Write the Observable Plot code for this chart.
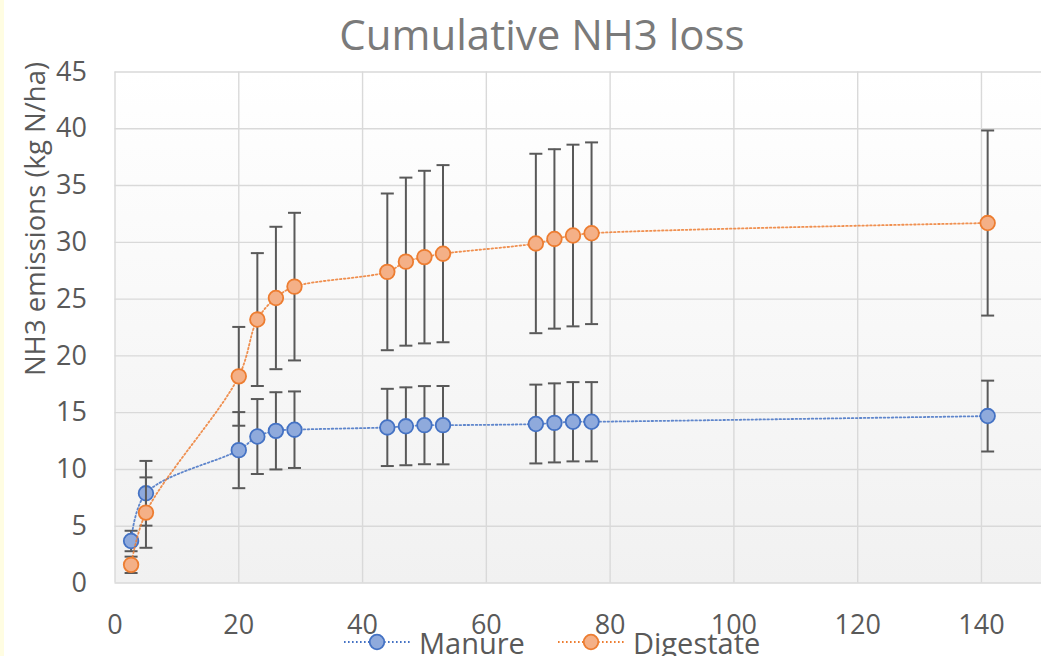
<!DOCTYPE html>
<html>
<head>
<meta charset="utf-8">
<script src="https://cdn.jsdelivr.net/npm/d3@7"></script>
<script src="https://cdn.jsdelivr.net/npm/@observablehq/plot@0.6"></script>
<style>
  html, body { margin: 0; padding: 0; background: #ffffff; }
  #wrap { position: relative; width: 1041px; height: 656px; overflow: hidden; font-family: "Open Sans", sans-serif; }
  #strip { position: absolute; left: 0; top: 0; width: 4px; height: 656px; background: #fffde2; }
  #chart { position: absolute; left: 0; top: 0; }
  #title { position: absolute; left: 542px; top: 33px; transform: translate(-50%, -50%); white-space: nowrap; font-size: 42px; color: #7a7a7a; }
  #ylabel { position: absolute; left: 34px; top: 219px; transform: translate(-50%, -50%) rotate(-90deg); white-space: nowrap; font-size: 27.5px; color: #595959; }
  .leg { position: absolute; top: 622px; height: 40px; display: flex; align-items: center; font-size: 29px; color: #595959; white-space: nowrap; }
  .leg svg { margin-right: 8px; }
</style>
</head>
<body>
<div id="wrap">
  <div id="strip"></div>
  <div id="chart"></div>
  <div id="title">Cumulative NH3 loss</div>
  <div id="ylabel">NH3 emissions (kg N/ha)</div>
  <div id="legend"></div>
</div>
<script>
// ---- data ----
const days = [2.6, 5, 20, 23, 26, 29, 44, 47, 50, 53, 68, 71, 74, 77, 141];
const manure = [3.7, 7.9, 11.7, 12.9, 13.4, 13.5, 13.7, 13.8, 13.9, 13.9, 14.0, 14.1, 14.2, 14.2, 14.7];
const manureErr = [0.9, 2.85, 3.35, 3.3, 3.4, 3.37, 3.4, 3.43, 3.44, 3.45, 3.47, 3.48, 3.49, 3.49, 3.12];
const digestate = [1.6, 6.2, 18.2, 23.2, 25.1, 26.1, 27.4, 28.3, 28.7, 29.0, 29.9, 30.3, 30.6, 30.8, 31.7];
const digestateErr = [0.72, 3.1, 4.35, 5.85, 6.27, 6.5, 6.9, 7.4, 7.6, 7.8, 7.9, 7.9, 8.0, 8.0, 8.15];
const seriesNames = ["Manure", "Digestate"];
const xTicks = [0, 20, 40, 60, 80, 100, 120, 140];
const yTicks = [0, 5, 10, 15, 20, 25, 30, 35, 40, 45];

const colors = {
  Manure: {line: "#4472c4", fill: "#8faadc", stroke: "#4472c4"},
  Digestate: {line: "#ed7d31", fill: "#f4b087", stroke: "#ed7d31"}
};

const manureRows = days.map((d, i) => ({day: d, v: manure[i], lo: manure[i] - manureErr[i], hi: manure[i] + manureErr[i]}));
const digestateRows = days.map((d, i) => ({day: d, v: digestate[i], lo: digestate[i] - digestateErr[i], hi: digestate[i] + digestateErr[i]}));

const cap = { draw(ctx) { ctx.moveTo(-6.5, 0); ctx.lineTo(6.5, 0); } };

function seriesMarks(rows, c) {
  return [
    Plot.ruleX(rows, {x: "day", y1: "lo", y2: "hi", stroke: "#595959", strokeWidth: 2}),
    Plot.dot(rows, {x: "day", y: "lo", symbol: cap, r: 5, stroke: "#595959", strokeWidth: 2, fill: "none"}),
    Plot.dot(rows, {x: "day", y: "hi", symbol: cap, r: 5, stroke: "#595959", strokeWidth: 2, fill: "none"})
  ];
}
function seriesTop(rows, c) {
  return [
    Plot.line(rows, {x: "day", y: "v", curve: "catmull-rom", stroke: c.line, strokeWidth: 1.8, strokeDasharray: "1.6,2.4", strokeOpacity: 0.85}),
    Plot.dot(rows, {x: "day", y: "v", r: 7.3, fill: c.fill, stroke: c.stroke, strokeWidth: 1.8})
  ];
}

const chart = Plot.plot({
  width: 1041,
  height: 656,
  marginLeft: 114.5,
  marginRight: 0,
  marginTop: 71.5,
  marginBottom: 73.5,
  style: {background: "transparent", fontFamily: "Open Sans, sans-serif", overflow: "visible"},
  x: {domain: [0, 149.7]},
  y: {domain: [0, 45]},
  marks: [
    Plot.frame({fill: "url(#plotbg)", stroke: null}),
    Plot.gridX(xTicks, {stroke: "#d9d9d9", strokeOpacity: 1, strokeWidth: 1.4}),
    Plot.gridY(yTicks, {stroke: "#d9d9d9", strokeOpacity: 1, strokeWidth: 1.4}),
    Plot.axisX(xTicks, {tickSize: 0, tickPadding: 32, fontSize: 27, color: "#595959", label: null}),
    Plot.axisY(yTicks, {tickSize: 0, tickPadding: 28, fontSize: 27, color: "#595959", label: null}),
    ...seriesMarks(manureRows, colors.Manure),
    ...seriesTop(manureRows, colors.Manure),
    ...seriesMarks(digestateRows, colors.Digestate),
    ...seriesTop(digestateRows, colors.Digestate)
  ]
});

// gradient for plot-area background
const defs = d3.select(chart).insert("defs", ":first-child");
const g = defs.append("linearGradient").attr("id", "plotbg").attr("x1", 0).attr("y1", 0).attr("x2", 0).attr("y2", 1);
g.append("stop").attr("offset", "0%").attr("stop-color", "#ffffff");
g.append("stop").attr("offset", "100%").attr("stop-color", "#f1f1f1");

document.getElementById("chart").appendChild(chart);

// legend
const legend = document.getElementById("legend");
const legendPos = {Manure: 343, Digestate: 557};
seriesNames.forEach(name => {
  const c = colors[name];
  const div = document.createElement("div");
  div.className = "leg";
  div.style.left = legendPos[name] + "px";
  div.innerHTML = `<svg width="68" height="20"><line x1="1" y1="10" x2="67" y2="10" stroke="${c.line}" stroke-width="1.8" stroke-dasharray="1.6,2.4"/><circle cx="34" cy="10" r="7.3" fill="${c.fill}" stroke="${c.stroke}" stroke-width="1.8"/></svg><span>${name}</span>`;
  legend.appendChild(div);
});
</script>
</body>
</html>
